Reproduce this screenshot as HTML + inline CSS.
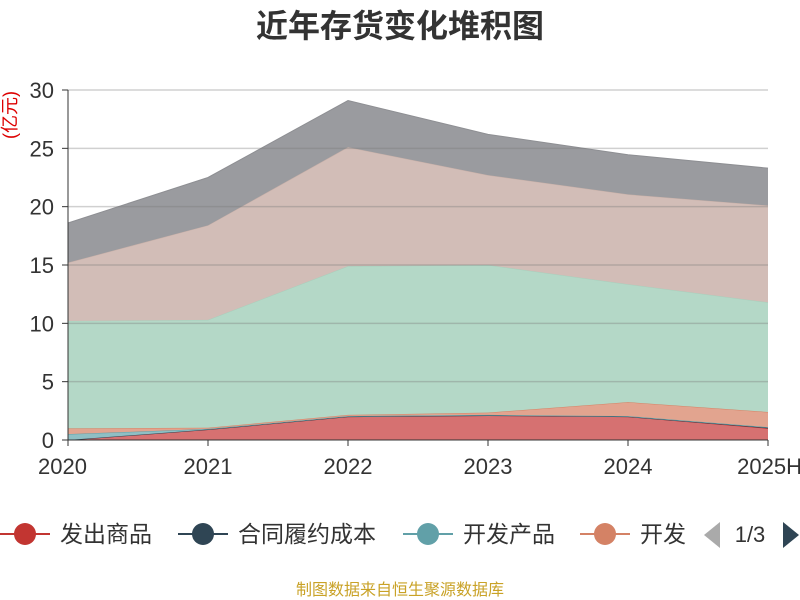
<!DOCTYPE html>
<html><head><meta charset="utf-8"><style>
body{margin:0;background:#fff;font-family:"Liberation Sans","Noto Sans CJK SC",sans-serif;}
</style></head><body>
<svg id="chart" width="800" height="600" xmlns="http://www.w3.org/2000/svg" style="display:block">
<text x="400" y="37" text-anchor="middle" font-size="32" font-weight="bold" fill="#333" font-family="Liberation Sans,Noto Sans CJK SC,sans-serif">近年存货变化堆积图</text>
<text transform="translate(16,115) rotate(-90)" text-anchor="middle" font-size="18" fill="#d00" font-family="Liberation Sans,Noto Sans CJK SC,sans-serif">(亿元)</text>
<g id="areas"></g><g id="grid"></g><g id="axes"></g>
<g id="legend"></g>
<path d="M720,522 L704,535 L720,548 Z" fill="#aaa"/>
<text x="750" y="542" text-anchor="middle" font-size="22" fill="#333">1/3</text>
<path d="M783,522 L799,535 L783,548 Z" fill="#2f4554"/>
<text x="400" y="595" text-anchor="middle" font-size="16" fill="#c9a227" font-family="Liberation Sans,Noto Sans CJK SC,sans-serif">制图数据来自恒生聚源数据库</text>
</svg>
<script>
const categories=["2020","2021","2022","2023","2024","2025H"];
const yTicks=[0,5,10,15,20,25,30];
const s1=[0,0.9,2.0,2.1,2.0,1.0];
const s2=[0,0,0,0,0,0.05];
const s3=[0.5,0.05,0.05,0.05,0.05,0.05];
const s4=[0.5,0.1,0.1,0.2,1.2,1.3];
const s5=[9.2,9.25,12.75,12.65,10.1,9.4];
const s6=[5.0,8.1,10.2,7.7,7.7,8.3];
const s7=[3.4,4.1,4.0,3.5,3.4,3.2];
const seriesNames=["发出商品","合同履约成本","开发产品","开发","s5","s6","s7"];
const series=[s1,s2,s3,s4,s5,s6,s7];
const fills=["#d67171","#2f4554","#8fbfc4","#e2a48f","#b4d8c7","#d2bdb7","#9a9b9f"];
const strokes=["#c23531","#2f4554","#61a0a8","#d48265","#a8cfbc","#c8b0a8","#8e8f93"];
const NS="http://www.w3.org/2000/svg";
const X0=68,X1=768,Y0=440,YMAX=30,YH=350;
const xs=i=>X0+i*(X1-X0)/(categories.length-1);
const ys=v=>Y0-v/YMAX*YH;
function mk(t,a,p){const e=document.createElementNS(NS,t);for(const k in a)e.setAttribute(k,a[k]);p.appendChild(e);return e;}
const grid=document.getElementById('grid'),axes=document.getElementById('axes'),areas=document.getElementById('areas');
yTicks.forEach(v=>{
 if(v>0){const l=mk('line',{x1:X0,x2:X1,y1:ys(v),y2:ys(v),stroke:'rgba(120,120,120,0.35)','stroke-width':1.5},grid);
 
 }
 const tk=mk('line',{x1:X0-6,x2:X0,y1:ys(v),y2:ys(v),stroke:'#333'},axes);
 
 
 const t=mk('text',{x:X0-14,y:ys(v)+8,'text-anchor':'end','font-size':22,fill:'#333'},axes);t.textContent=v;
 
 
});
let base=categories.map(()=>0);
series.forEach((s,k)=>{
 const top=base.map((b,i)=>b+s[i]);
 let d='M'+top.map((v,i)=>xs(i)+','+ys(v)).join(' L');
 for(let i=categories.length-1;i>=0;i--)d+=' L'+xs(i)+','+ys(base[i]);
 const a=mk('path',{d:d+'Z',fill:fills[k],stroke:'none'},areas);
 
 
 const l=mk('path',{d:'M'+top.map((v,i)=>xs(i)+','+ys(v)).join(' L'),fill:'none',stroke:strokes[k],'stroke-width':1},areas);
 
 
 base=top;
});
const ax=mk('line',{x1:X0,x2:X1,y1:Y0,y2:Y0,stroke:'#333'},axes);


const ay=mk('line',{x1:X0,x2:X0,y1:ys(30),y2:Y0,stroke:'#333'},axes);


categories.forEach((c,i)=>{
 const tk=mk('line',{x1:xs(i),x2:xs(i),y1:Y0,y2:Y0+6,stroke:'#333'},axes);
 
 
 const anchor=i==categories.length-1?'end':(i==0?'start':'middle');
 const t=mk('text',{x:i==0?X0-30:(i==categories.length-1?X1+34:xs(i)),y:474,'text-anchor':anchor,'font-size':22,fill:'#333'},axes);t.textContent=c;
 
 
});
const leg=document.getElementById('legend');
const lx=[0,178,403,580];
[0,1,2,3].forEach(k=>{
 const g=mk('g',{},leg);
 
 
 mk('line',{x1:lx[k],x2:lx[k]+50,y1:534,y2:534,stroke:strokes[k],'stroke-width':2},g);
 mk('circle',{cx:lx[k]+25,cy:534,r:11,fill:strokes[k]},g);
 const t=mk('text',{x:lx[k]+60,y:542,'font-size':23,fill:'#333'},g);t.textContent=seriesNames[k];
});
</script>
</body></html>
